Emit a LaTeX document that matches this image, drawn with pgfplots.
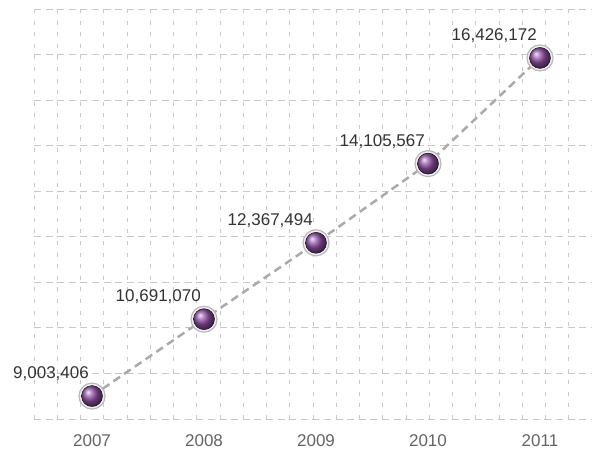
\documentclass[border=0pt]{standalone}
\usepackage{pgfplots}
\pgfplotsset{compat=1.18}
\usepackage{fontspec}
\setmainfont{Liberation Sans}
\definecolor{gridc}{RGB}{200,200,200}
\definecolor{linec}{RGB}{170,170,170}
\definecolor{mk}{RGB}{145,80,165}
\definecolor{lblc}{RGB}{51,51,51}
\definecolor{tickc}{RGB}{100,100,100}
\pgfplotstableread{
x y label
0 9003406 9,003,406
1 10691070 10,691,070
2 12367494 12,367,494
3 14105567 14,105,567
4 16426172 16,426,172
}\datatab
\begin{document}
\begin{tikzpicture}
\begin{axis}[
  at={(0,0)}, anchor=south west,
  scale only axis, width=558bp, height=410bp,
  xmin=-0.518, xmax=4.4644,
  ymin=8500000, ymax=17500000,
  xtick={0,1,2,3,4},
  xticklabels={2007,2008,2009,2010,2011},
  minor xtick={-0.518,-0.3104,...,4.47},
  ytick={8500000,9500000,...,17500000},
  yticklabels={},
  scaled y ticks=false,
  major tick length=0pt, minor tick length=0pt,
  axis line style={draw=none},
  ymajorgrids, xminorgrids, xmajorgrids=false,
  major grid style={gridc, line width=0.8bp, dash pattern=on 7bp off 4.6bp},
  minor grid style={gridc, line width=0.8bp, dash pattern=on 4bp off 7.6bp},
  tick label style={font=\fontsize{17bp}{20bp}\selectfont, text=tickc},
  xticklabel style={yshift=-12bp},
  /pgf/number format/assume math mode=true,
  clip=false,
]
\addplot[linec, line width=2.5bp, dash pattern=on 8bp off 5bp,
  mark=*, mark size=13bp,
  mark options={solid, draw=gray!55, fill=gray!10, line width=1.2bp},
] table[x=x, y=y] {\datatab};
\addplot[only marks, mark=ball, mark size=10.5bp,
  mark options={ball color=mk},
  point meta=explicit symbolic,
  nodes near coords,
  every node near coord/.style={anchor=south east, inner sep=0pt, xshift=-3bp, yshift=15bp,
     font=\fontsize{17bp}{20bp}\selectfont, text=lblc},
] table[x=x, y=y, meta=label] {\datatab};
\end{axis}
\pgfresetboundingbox
\path (-34bp,-36bp) rectangle (558bp,419bp);
\end{tikzpicture}
\end{document}
